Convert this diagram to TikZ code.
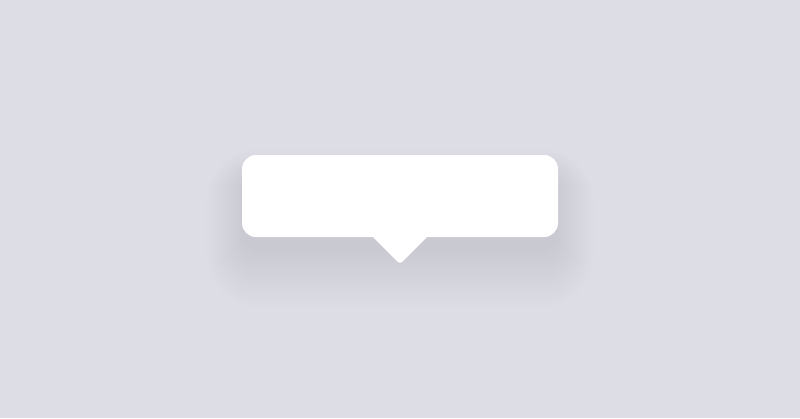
\documentclass[tikz,border=0pt]{standalone}
\usetikzlibrary{backgrounds}
\definecolor{bgcol}{RGB}{220,221,229}
\tikzstyle{bubble} = [fill=white,rounded corners=14,minimum width=316,minimum height=82,inner sep=0pt]
\tikzstyle{shade} = [fill=black,opacity=0.0055]

\begin{document}
\begin{tikzpicture}[x=1pt,y=-1pt]
      \fill[bgcol] (0,0) rectangle (800,418);
      \useasboundingbox (0,0) rectangle (800,418);

      % soft shadow under the bubble
      \foreach \s in {0,...,19}
        \fill[shade,rounded corners=14+2*\s] (244-2*\s,178-1.5*\s) rectangle (556+2*\s,250+3*\s);

      \node[bubble] (box) at (400,196) {};
      \fill[white,rounded corners=3] (366,230) -- (400,264) -- (434,230) -- cycle;
    \end{tikzpicture}
\end{document}
